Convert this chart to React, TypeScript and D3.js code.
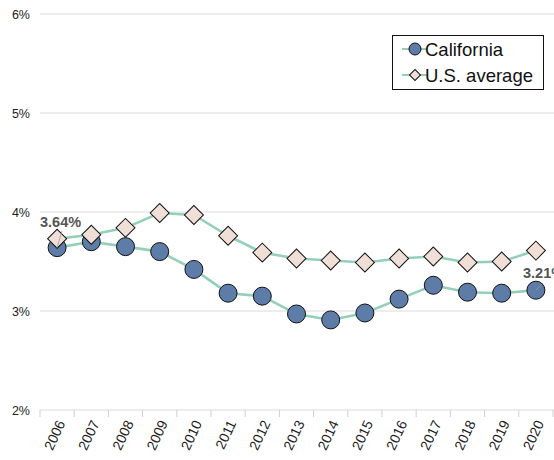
import * as d3 from "d3"
import { useEffect, useRef } from "react"

const years = ["2006", "2007", "2008", "2009", "2010", "2011", "2012", "2013", "2014", "2015", "2016", "2017", "2018", "2019", "2020"]
const california = [3.64, 3.7, 3.65, 3.6, 3.42, 3.18, 3.15, 2.97, 2.91, 2.98, 3.12, 3.26, 3.19, 3.18, 3.21]
const usAverage = [3.73, 3.77, 3.84, 3.99, 3.97, 3.76, 3.59, 3.53, 3.51, 3.49, 3.53, 3.55, 3.49, 3.5, 3.61]
const yTicks = [2, 3, 4, 5, 6]

const WIDTH = 554
const HEIGHT = 460
const FONT = "'Liberation Sans', Arial, Helvetica, sans-serif"
const LINE_COLOR = "#93cfb9"
const CA_FILL = "#5d7ca8"
const US_FILL = "#efdfd6"

export default function App() {
  const svgRef = useRef<SVGSVGElement>(null)

  useEffect(() => {
    if (!svgRef.current) return
    const svg = d3.select(svgRef.current)
    svg.selectAll("*").remove()

    const x = d3.scaleBand<string>().domain(years).range([40, 553])
    const y = d3.scaleLinear().domain([2, 6]).range([410, 14])
    const cx = (d: string) => (x(d) as number) + x.bandwidth() / 2

    // gridlines + y labels
    const grid = svg.append("g")
    yTicks.forEach((t) => {
      grid.append("line")
        .attr("x1", 40).attr("x2", WIDTH)
        .attr("y1", y(t)).attr("y2", y(t))
        .attr("stroke", "#dcdcdc").attr("stroke-width", 1.2)
      grid.append("text")
        .attr("x", 30).attr("y", y(t) + 4.5)
        .attr("text-anchor", "end")
        .style("font-family", FONT).style("font-size", "12.5px")
        .attr("fill", "#222")
        .text(`${t}%`)
    })

    // x ticks
    const xt = svg.append("g")
    years.forEach((yr) => {
      const x0 = x(yr) as number
      xt.append("line")
        .attr("x1", x0).attr("x2", x0)
        .attr("y1", 410).attr("y2", 417)
        .attr("stroke", "#cfcfcf")
    })
    xt.append("line").attr("x1", 553).attr("x2", 553).attr("y1", 410).attr("y2", 417).attr("stroke", "#cfcfcf")
    years.forEach((yr) => {
      xt.append("text")
        .attr("transform", `translate(${cx(yr) + 4},${421}) rotate(-65)`)
        .attr("text-anchor", "end")
        .attr("dy", "0.35em")
        .style("font-family", FONT).style("font-size", "14px")
        .attr("fill", "#222")
        .text(yr)
    })

    const line = d3.line<number>()
      .x((_, i) => cx(years[i]))
      .y((d) => y(d))

    svg.append("path").datum(california).attr("d", line)
      .attr("fill", "none").attr("stroke", LINE_COLOR).attr("stroke-width", 2.6)
    svg.append("path").datum(usAverage).attr("d", line)
      .attr("fill", "none").attr("stroke", LINE_COLOR).attr("stroke-width", 2.6)

    const diamond = d3.symbol().type(d3.symbolSquare).size(180)

    svg.append("g").selectAll("circle").data(california).enter().append("circle")
      .attr("cx", (_, i) => cx(years[i])).attr("cy", (d) => y(d))
      .attr("r", 9).attr("fill", CA_FILL).attr("stroke", "#111").attr("stroke-width", 1)

    svg.append("g").selectAll("path").data(usAverage).enter().append("path")
      .attr("d", diamond)
      .attr("transform", (d, i) => `translate(${cx(years[i])},${y(d)}) rotate(45)`)
      .attr("fill", US_FILL).attr("stroke", "#111").attr("stroke-width", 1)

    // value labels
    const first = california[0]
    const last = california[california.length - 1]
    svg.append("line")
      .attr("x1", 62).attr("y1", 231).attr("x2", cx(years[0])).attr("y2", y(first))
      .attr("stroke", "#999").attr("stroke-width", 0.8)
    svg.append("text")
      .attr("x", 40).attr("y", 227)
      .style("font-family", FONT).style("font-size", "14.5px").style("font-weight", "bold")
      .attr("fill", "#555")
      .text(`${first.toFixed(2)}%`)
    svg.append("line")
      .attr("x1", 543).attr("y1", 283).attr("x2", cx(years[years.length - 1])).attr("y2", y(last))
      .attr("stroke", "#999").attr("stroke-width", 0.8)
    svg.append("text")
      .attr("x", 523).attr("y", 278)
      .style("font-family", FONT).style("font-size", "14.5px").style("font-weight", "bold")
      .attr("fill", "#555")
      .text(`${last.toFixed(2)}%`)

    // legend
    const lg = svg.append("g")
    lg.append("rect")
      .attr("x", 392.5).attr("y", 35.5).attr("width", 151).attr("height", 54)
      .attr("fill", "white").attr("stroke", "#111").attr("stroke-width", 1)
    const items = [
      { name: "California", kind: "circle" },
      { name: "U.S. average", kind: "diamond" },
    ]
    items.forEach((it, i) => {
      const ly = 49 + i * 26
      lg.append("line").attr("x1", 402).attr("x2", 428).attr("y1", ly).attr("y2", ly)
        .attr("stroke", LINE_COLOR).attr("stroke-width", 2)
      if (it.kind === "circle") {
        lg.append("circle").attr("cx", 415).attr("cy", ly).attr("r", 6)
          .attr("fill", CA_FILL).attr("stroke", "#111")
      } else {
        lg.append("path").attr("d", d3.symbol().type(d3.symbolSquare).size(60))
          .attr("transform", `translate(415,${ly}) rotate(45)`)
          .attr("fill", US_FILL).attr("stroke", "#111")
      }
      lg.append("text").attr("x", 425).attr("y", ly + 6.5)
        .style("font-family", FONT).style("font-size", "18.5px")
        .attr("fill", "#111")
        .text(it.name)
    })
  }, [])

  return (
    <svg
      ref={svgRef}
      width={WIDTH}
      height={HEIGHT}
      style={{ position: "absolute", left: 0, top: 0, background: "white" }}
    />
  )
}
